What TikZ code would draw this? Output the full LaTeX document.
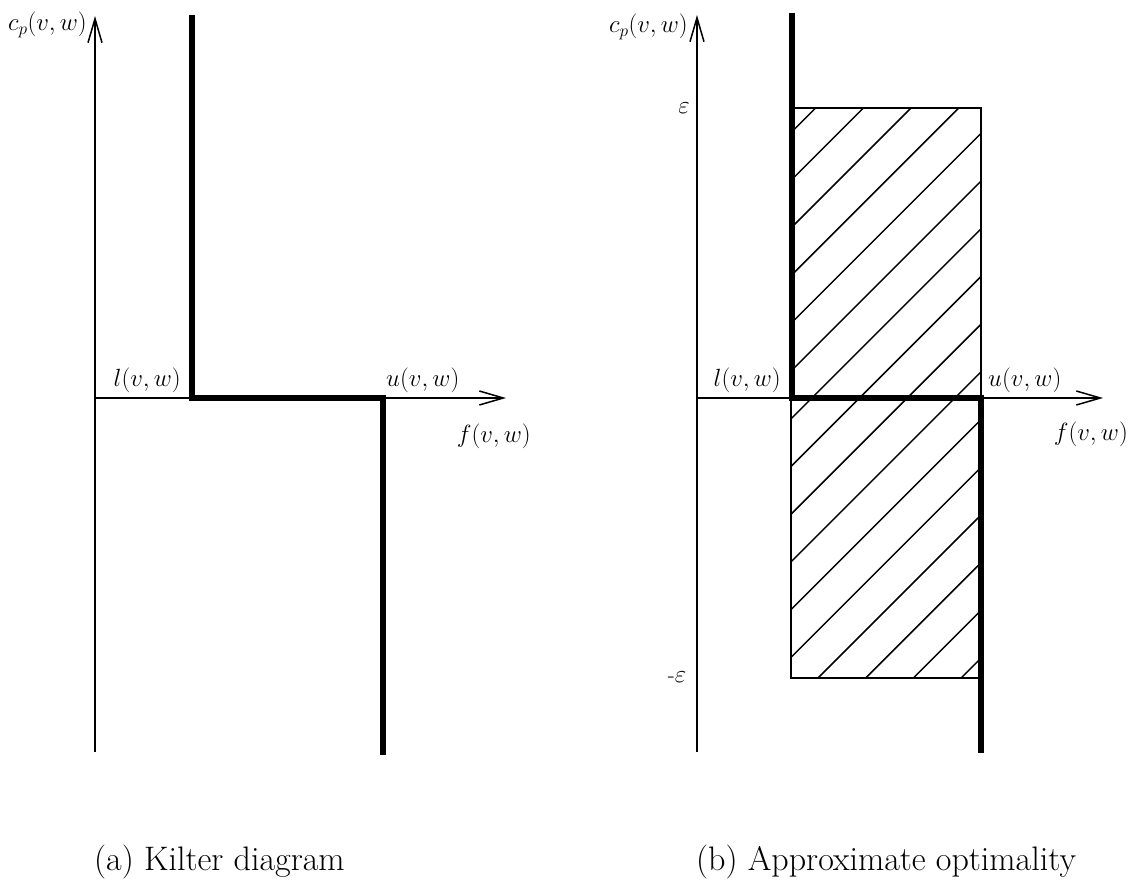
\documentclass[tikz,border=0pt]{standalone}
\usetikzlibrary{arrows.meta}
\begin{document}
\begin{tikzpicture}[x=1pt,y=-1pt,
  axis/.style={line width=1.5pt, -{Straight Barb[length=24pt,width=14pt,line width=1.5pt]}},
  kilter/.style={line width=5.5pt, line cap=butt, line join=miter},
  lbl/.style={font=\fontsize{23}{27}\selectfont, inner sep=0pt},
  capt/.style={font=\fontsize{34}{38}\selectfont, inner sep=0pt},
  hatch/.style={line width=1.5pt},
  frame/.style={line width=2.4pt}]
\useasboundingbox (0,0) rectangle (1132,880);

% ---------- (a) Kilter diagram ----------
\coordinate (aV0) at (95,752);
\coordinate (aV1) at (95,16);
\coordinate (aH0) at (95,398);
\coordinate (aH1) at (506,398);
\draw[axis] (aV0) -- (aV1);
\draw[axis] (aH0) -- (aH1);
\coordinate (aK1) at (192,15);
\coordinate (aK2) at (192,398);
\coordinate (aK3) at (383,398);
\coordinate (aK4) at (383,755);
\draw[kilter] (aK1) -- (aK2) -- (aK3) -- (aK4);
\node[lbl, anchor=base east] (acp) at (87,31) {$c_p(v,w)$};
\node[lbl, anchor=base east] (al) at (181,386) {$l(v,w)$};
\node[lbl, anchor=base west] (au) at (386,386) {$u(v,w)$};
\node[lbl, anchor=base east] (af) at (531,442) {$f(v,w)$};
\node[capt, anchor=base west] (acap) at (94,870) {(a) Kilter diagram};

% ---------- (b) Approximate optimality ----------
\begin{scope}
  \clip (791,108) rectangle (981,678);
  \foreach \k in {-3,...,12} {
    \pgfmathsetmacro{\c}{1496-47.7*\k}
    \draw[hatch] (\c-678,678) -- (\c-108,108);
  }
\end{scope}
\coordinate (bR1) at (791,108);
\coordinate (bR2) at (981,678);
\draw[frame] (bR1) rectangle (bR2);
\coordinate (bV0) at (697,752);
\coordinate (bV1) at (697,15);
\coordinate (bH0) at (697,398);
\coordinate (bH1) at (1103,398);
\draw[axis] (bV0) -- (bV1);
\draw[axis] (bH0) -- (bH1);
\coordinate (bK1) at (792,13);
\coordinate (bK2) at (792,398);
\coordinate (bK3) at (981,398);
\coordinate (bK4) at (981,753);
\draw[kilter] (bK1) -- (bK2) -- (bK3) -- (bK4);
\node[lbl, anchor=base east] (bcp) at (688,33) {$c_p(v,w)$};
\node[lbl] (beps) at (684,108) {$\varepsilon$};
\node[lbl] (bmeps) at (677,677) {-$\varepsilon$};
\node[lbl, anchor=base east] (bl) at (781,386) {$l(v,w)$};
\node[lbl, anchor=base west] (bu) at (988,386) {$u(v,w)$};
\node[lbl, anchor=base east] (bf) at (1128,440) {$f(v,w)$};
\node[capt, anchor=base west] (bcap) at (696,870) {(b) Approximate optimality};
\end{tikzpicture}
\end{document}
